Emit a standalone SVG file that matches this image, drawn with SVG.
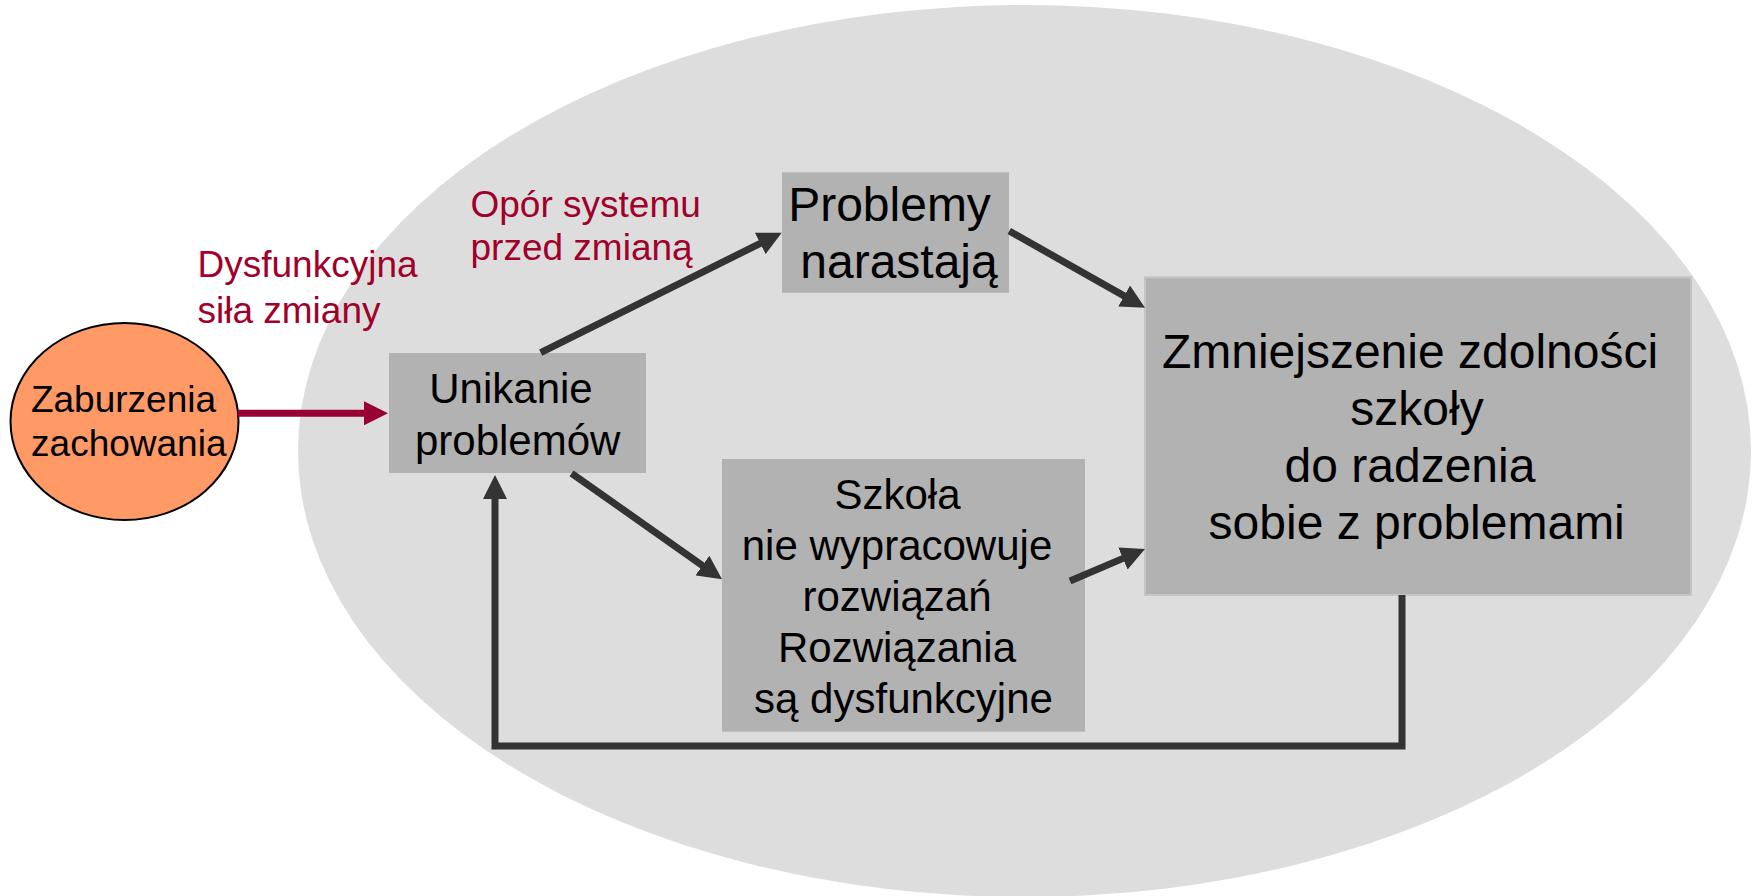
<svg xmlns="http://www.w3.org/2000/svg" width="1756" height="896" viewBox="0 0 1756 896">
  <style>
    .t { font-family: "Liberation Sans", Arial, sans-serif; fill: #000; }
    .red { font-family: "Liberation Sans", Arial, sans-serif; fill: #a0002a; font-size: 37px; }
    .box { fill: #b2b2b2; }
    .c { fill: none; stroke: #333333; stroke-width: 7; }
  </style>
  <defs>
    <marker id="ah" markerUnits="userSpaceOnUse" markerWidth="24" markerHeight="24" viewBox="0 0 24 24" refX="4" refY="12" orient="auto">
      <path d="M0,0 L24,12 L0,24 z" fill="#333333"/>
    </marker>
    <marker id="ahr" markerUnits="userSpaceOnUse" markerWidth="24" markerHeight="24" viewBox="0 0 24 24" refX="4" refY="12" orient="auto">
      <path d="M0,0 L24,12 L0,24 z" fill="#990033"/>
    </marker>
  </defs>

  <rect x="0" y="0" width="1756" height="896" fill="#ffffff"/>

  <g id="system">
    <ellipse cx="1024.5" cy="451" rx="726.5" ry="446" fill="#dddddd"/>
  </g>

  <g id="labels">
    <text class="red" x="197.5" y="277.3">Dysfunkcyjna</text>
    <text class="red" x="197.5" y="322.5">siła zmiany</text>
    <text class="red" x="470.5" y="216.7">Opór systemu</text>
    <text class="red" x="470.5" y="260">przed zmianą</text>
  </g>

  <g id="zaburzenia">
    <ellipse cx="124.5" cy="421.5" rx="114" ry="98.5" fill="#ff9966" stroke="#000" stroke-width="2"/>
    <text class="t" font-size="37" text-anchor="middle" x="123.5" y="411.7">Zaburzenia</text>
    <text class="t" font-size="37" text-anchor="middle" x="128.8" y="456">zachowania</text>
  </g>

  <g id="unikanie">
    <rect class="box" x="389" y="353" width="257" height="120"/>
    <text class="t" font-size="42" text-anchor="middle" x="511" y="402.5">Unikanie</text>
    <text class="t" font-size="42" text-anchor="middle" x="517.7" y="455">problemów</text>
  </g>

  <g id="problemy">
    <rect class="box" x="782" y="172.3" width="227" height="120.5"/>
    <text class="t" font-size="48" text-anchor="middle" x="889.5" y="221">Problemy</text>
    <text class="t" font-size="48" text-anchor="middle" x="899" y="278.3">narastają</text>
  </g>

  <g id="szkola">
    <rect class="box" x="722" y="459" width="363" height="272.7"/>
    <text class="t" font-size="42" text-anchor="middle" x="897.5" y="509.3">Szkoła</text>
    <text class="t" font-size="42" text-anchor="middle" x="897" y="560">nie wypracowuje</text>
    <text class="t" font-size="42" text-anchor="middle" x="897" y="611">rozwiązań</text>
    <text class="t" font-size="42" text-anchor="middle" x="897" y="662.3">Rozwiązania</text>
    <text class="t" font-size="42" text-anchor="middle" x="903.5" y="713.3">są dysfunkcyjne</text>
  </g>

  <g id="zmniejszenie">
    <rect class="box" x="1145" y="277.3" width="546" height="317.7" stroke="#c4c4c4" stroke-width="2"/>
    <text class="t" font-size="48" text-anchor="middle" x="1410" y="367.7">Zmniejszenie zdolności</text>
    <text class="t" font-size="48" text-anchor="middle" x="1417" y="425">szkoły</text>
    <text class="t" font-size="48" text-anchor="middle" x="1410" y="482">do radzenia</text>
    <text class="t" font-size="48" text-anchor="middle" x="1416.7" y="539.3">sobie z problemami</text>
  </g>

  <g id="connectors">
    <line x1="238" y1="413.3" x2="368" y2="413.3" stroke="#990033" stroke-width="7" marker-end="url(#ahr)"/>
    <line class="c" x1="540.7" y1="352.7" x2="763.8" y2="241.6" marker-end="url(#ah)"/>
    <line class="c" x1="1009.3" y1="231" x2="1127.6" y2="297.9" marker-end="url(#ah)"/>
    <line class="c" x1="571.6" y1="473.3" x2="705.7" y2="567.8" marker-end="url(#ah)"/>
    <line class="c" x1="1070" y1="581" x2="1126.6" y2="556.9" marker-end="url(#ah)"/>
    <polyline class="c" points="1402,595 1402,746 495,746 495,495" stroke-linejoin="miter" marker-end="url(#ah)"/>
  </g>
</svg>
